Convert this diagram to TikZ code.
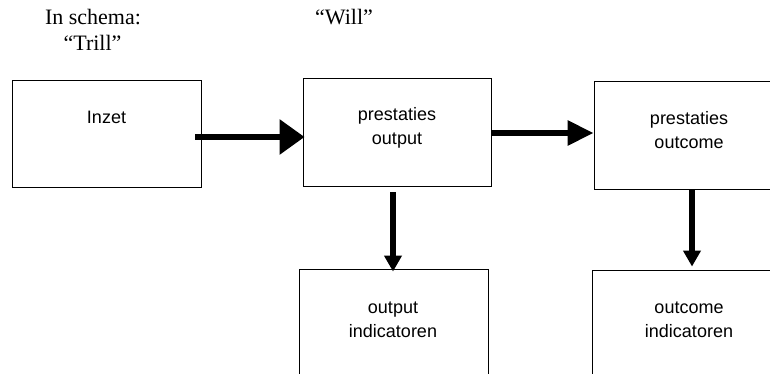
\documentclass[tikz,border=0pt]{standalone}
\usepackage{fontspec}
\setmainfont{Liberation Serif}
\setsansfont{Liberation Sans}
\usetikzlibrary{arrows.meta}
\begin{document}
\begin{tikzpicture}[x=1pt,y=-1pt,
  box/.style={draw=black,line width=0.9pt,minimum width=#1,inner sep=0pt},
  boxtext/.style={font=\sffamily\fontsize{18}{24}\selectfont,align=center,inner sep=0pt},
  toptext/.style={font=\fontsize{22}{26}\selectfont,inner sep=0pt},
]
\useasboundingbox (0,0) rectangle (770,374);
% boxes
\node[box=189pt,minimum height=107pt] (inzet) at (106.5,133.5) {};
\node[box=188pt,minimum height=108pt] (out) at (397,132) {};
\node[box=190pt,minimum height=108pt] (outc) at (689,135) {};
\node[box=189pt,minimum height=108pt] (outind) at (393.5,323) {};
\node[box=194pt,minimum height=108pt] (outcind) at (689,324) {};
% box texts
\node[boxtext] (tinzet) at (106.5,117) {Inzet};
\node[boxtext] (tout) at (397,128) {prestaties\\output};
\node[boxtext] (toutc) at (689,130) {prestaties\\outcome};
\node[boxtext] (toutind) at (393,319.5) {output\\indicatoren};
\node[boxtext] (toutcind) at (689,320) {outcome\\indicatoren};
% top texts
\node[toptext] (schema) at (93,17) {In schema:};
\node[toptext] (trill) at (92.5,43) {“Trill”};
\node[toptext] (will) at (344,17) {“Will”};
% arrows
\draw[line width=6pt,-{Triangle[length=25pt,width=34pt]}]
  ([xshift=-6pt,yshift=-3.5pt]inzet.east) -- ([xshift=2pt,yshift=-5pt]out.west);
\draw[line width=6pt,-{Triangle[length=26pt,width=24pt]}]
  ([yshift=-1pt]out.east) -- ([yshift=2pt]outc.west);
\draw[line width=6pt,-{Triangle[length=16pt,width=17pt]}]
  ([xshift=-4pt,yshift=-6pt]out.south) -- ([xshift=-0.5pt,yshift=-3pt]outind.north);
\draw[line width=6pt,-{Triangle[length=16pt,width=17pt]}]
  ([xshift=3pt]outc.south) -- ([xshift=3pt,yshift=3pt]outcind.north);
\end{tikzpicture}
\end{document}
